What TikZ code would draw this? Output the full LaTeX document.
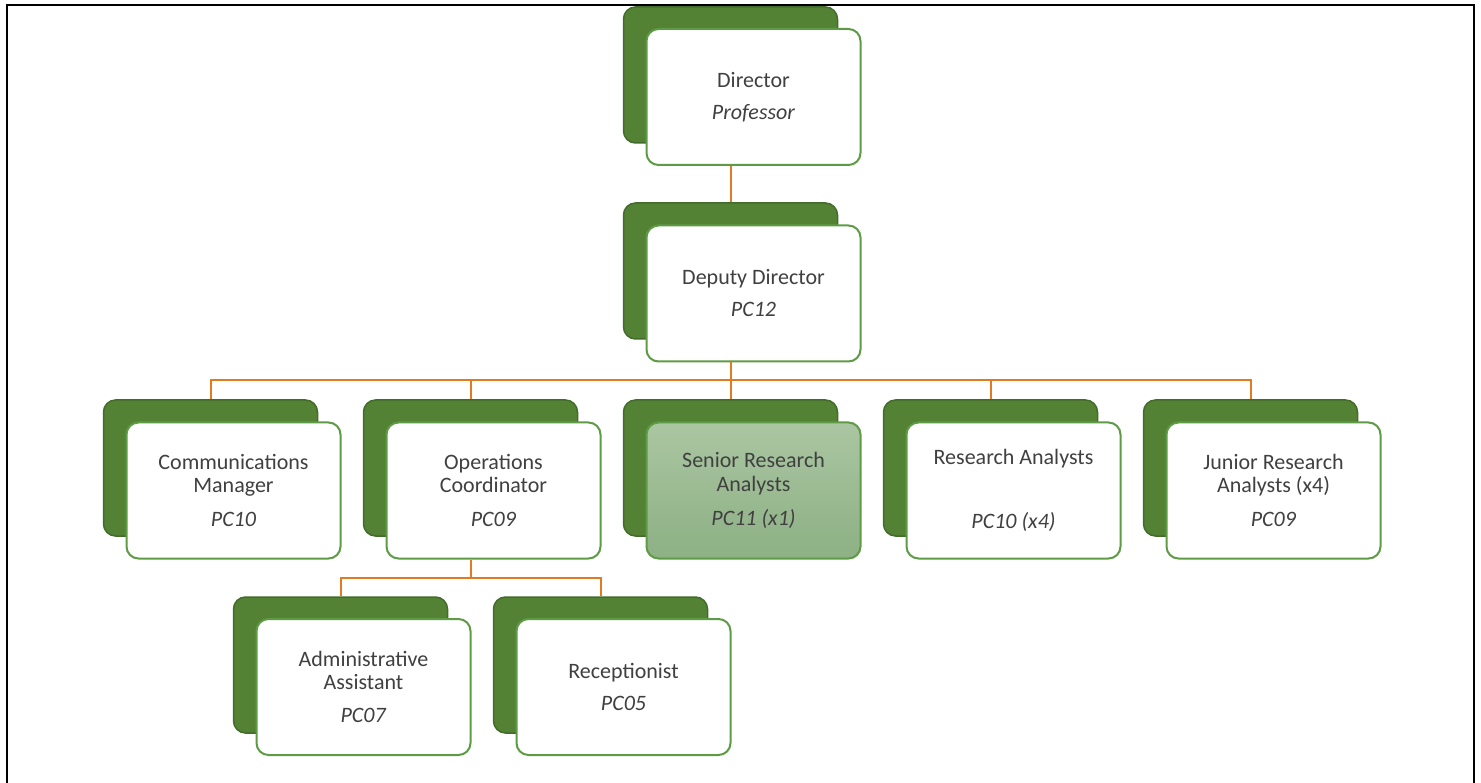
\documentclass[tikz,border=0pt]{standalone}
\usepackage{fontspec}
\setmainfont{Carlito}
\definecolor{bkfill}{HTML}{548235}
\definecolor{bkdraw}{HTML}{436B2B}
\definecolor{frdraw}{HTML}{5E9B45}
\definecolor{conn}{HTML}{E07B22}
\definecolor{txt}{HTML}{404040}
\definecolor{srtop}{HTML}{AAC6A2}
\definecolor{srbot}{HTML}{8DB084}
\tikzset{
  backbox/.style={rectangle, rounded corners=12pt, fill=bkfill, draw=bkdraw, line width=1.5pt, minimum width=214pt, minimum height=136pt, inner sep=0pt},
  frontbox/.style={rectangle, rounded corners=12pt, fill=white, draw=frdraw, line width=2pt, minimum width=214pt, minimum height=136pt, inner sep=0pt, align=center, text=txt, font=\fontsize{22}{23.5}\selectfont},
  seniorbox/.style={frontbox, top color=srtop, bottom color=srbot},
  link/.style={draw=conn, line width=2pt},
  frameline/.style={draw=black, line width=2.5pt}
}
\begin{document}
\begin{tikzpicture}[x=1pt, y=-1pt]
\useasboundingbox (0,0) rectangle (1481,783);
\draw[frameline] (7,783) -- (7,5) -- (1474,5) -- (1474,783);

% back boxes
\node[backbox] (dirB) at (730.5,75) {};
\node[backbox] (depB) at (730.5,271) {};
\node[backbox] (comB) at (210.5,468) {};
\node[backbox] (opsB) at (470.5,468) {};
\node[backbox] (senB) at (730.5,468) {};
\node[backbox] (resB) at (990.5,468) {};
\node[backbox] (junB) at (1250.5,468) {};
\node[backbox] (admB) at (340.5,665) {};
\node[backbox] (recB) at (600.5,665) {};

% front boxes
\node[frontbox] (dirF) at (753.5,97) {Director\\[8.5pt]\textit{Professor}};
\node[frontbox] (depF) at (753.5,293.5) {Deputy Director\\[8.5pt]\textit{PC12}};
\node[frontbox] (comF) at (233.5,490.5) {Communications\\Manager\\[10.5pt]\textit{PC10}};
\node[frontbox] (opsF) at (493.5,490.5) {Operations\\Coordinator\\[10.5pt]\textit{PC09}};
\node[seniorbox] (senF) at (753.5,490.5) {Senior Research\\Analysts\\[10.5pt]\textit{PC11 (x1)}};
\node[frontbox] (resF) at (1013.5,490.5) {Research Analysts\\[40.5pt]\textit{PC10 (x4)}};
\node[frontbox] (junF) at (1273.5,490.5) {Junior Research\\Analysts (x4)\\[10.5pt]\textit{PC09}};
\node[frontbox] (admF) at (363.5,687) {Administrative\\Assistant\\[9.5pt]\textit{PC07}};
\node[frontbox] (recF) at (623.5,687) {Receptionist\\[8.5pt]\textit{PC05}};

% connectors
\coordinate (bus1) at (730.5,380);
\coordinate (bus2) at (470.5,578);
\draw[link] (depB.north |- dirF.south) -- (depB.north);
\draw[link] (bus1 |- depF.south) -- (bus1);
\draw[link] (bus1) -| (comB.north);
\draw[link] (bus1) -| (opsB.north);
\draw[link] (bus1) -- (senB.north);
\draw[link] (bus1) -| (resB.north);
\draw[link] (bus1) -| (junB.north);
\draw[link] (bus2 |- opsF.south) -- (bus2);
\draw[link] (bus2) -| (admB.north);
\draw[link] (bus2) -| (recB.north);
\end{tikzpicture}
\end{document}
